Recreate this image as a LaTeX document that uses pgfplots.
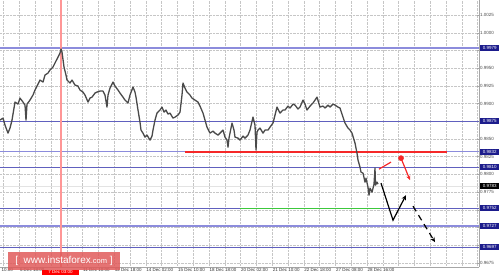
\documentclass[border=0pt]{standalone}
\usepackage{fontspec}
\setmainfont{Liberation Sans}
\usepackage{pgfplots}
\pgfplotsset{compat=1.18}
\usetikzlibrary{arrows.meta}
\definecolor{navy}{RGB}{28,28,140}
\definecolor{lvlblue}{RGB}{96,96,190}
\definecolor{lvllight}{RGB}{140,140,220}
\definecolor{pricegrey}{RGB}{74,74,74}
\definecolor{lvlred}{RGB}{245,40,40}
\definecolor{lvlgreen}{RGB}{60,200,60}
\definecolor{cursorred}{RGB}{255,150,150}
\definecolor{wmred}{RGB}{224,90,90}
\newcommand{\smallfnt}{\fontsize{4.5}{5}\selectfont}
\begin{document}
\begin{tikzpicture}
\useasboundingbox (0,0) rectangle (500pt,278pt);
\begin{axis}[
  at={(0pt,11pt)}, anchor=south west,
  scale only axis, width=479pt, height=267pt,
  xmin=0, xmax=479, ymin=0.9669, ymax=1.00465,
  clip=false,
  axis x line*=bottom, axis y line*=right,
  axis line style={draw=gray!70, line width=0.5pt},
  ytick={0.9675,0.97,0.9725,0.975,0.9775,0.98,0.9825,0.985,0.9875,0.99,0.9925,0.995,0.9975,1.0,1.0025},
  yticklabels={0.9675,,,,0.9775,0.9800,0.9825,0.9850,,0.9900,0.9925,0.9950,,1.0000,1.0025},
  yticklabel style={font=\smallfnt, text=black!70, inner sep=1pt},
  ymajorgrids, xmajorgrids,
  grid style={densely dotted, draw=gray!45, line width=0.4pt},
  ytick style={draw=gray!70, line width=0.4pt}, major tick length=2pt,
  xtick={3.5,19.3,35.1,50.9,66.7,82.5,98.3,114.1,129.9,145.7,161.5,177.3,193.1,208.9,224.7,240.5,256.3,272.1,287.9,303.7,319.5,335.3,351.1,366.9,382.7,398.5,414.3,430.1,445.9,461.7,477.5},
  xticklabels={,6 Dec 18:00,,,,11 Dec 10:00,,12 Dec 18:00,,14 Dec 02:00,,15 Dec 10:00,,18 Dec 18:00,,20 Dec 02:00,,21 Dec 10:00,,22 Dec 18:00,,27 Dec 08:00,,28 Dec 16:00,,,,,,,},
  xtick style={draw=none},
  xticklabel style={font=\smallfnt, text=black!80, anchor=north west, inner sep=0.5pt, yshift=-1pt},
]
% horizontal levels
\addplot[draw=lvllight, line width=1.8pt] coordinates {(0,0.9979) (479,0.9979)};
\addplot[draw=lvlblue, line width=1.25pt] coordinates {(0,0.9875) (479,0.9875)};
\addplot[draw=lvllight, line width=1.4pt] coordinates {(0,0.9832) (479,0.9832)};
\addplot[draw=lvlblue, line width=1.25pt] coordinates {(0,0.9810) (479,0.9810)};
\addplot[draw=gray!22, line width=1.6pt] coordinates {(0,0.9783) (479,0.9783)};
\addplot[draw=lvlblue, line width=1.25pt] coordinates {(0,0.9752) (479,0.9752)};
\addplot[draw=lvllight, line width=1.4pt] coordinates {(0,0.9727) (479,0.9727)};
\addplot[draw=lvlblue, line width=1.25pt] coordinates {(0,0.9697) (479,0.9697)};
% cursor line
\addplot[draw=cursorred, line width=1.2pt] coordinates {(61,0.9669) (61,1.00465)};
% support / resistance
\addplot[draw=lvlred, line width=1.8pt] coordinates {(185,0.9832) (447,0.9832)};
\addplot[draw=lvlgreen, line width=1.5pt] coordinates {(240,0.9752) (380,0.9752)};
% price
\addplot[draw=pricegrey, line width=1.3pt, line join=round] coordinates {
(0,0.98767) (3,0.98795) (5,0.98696) (8,0.98583) (10,0.98654) (12,0.98767)
(15,0.99022) (18,0.98993) (20,0.99078) (23,0.99022) (25,0.98979) (26,0.98767)
(27,0.98993) (30,0.9905) (33,0.99121) (35,0.99192) (38,0.99276) (40,0.99333)
(43,0.99305) (45,0.99404) (48,0.99432) (50,0.99475) (53,0.99517) (55,0.99574)
(58,0.99658) (60,0.99715) (61,0.99772) (62,0.99729) (64,0.99517) (66,0.99404)
(67,0.99333) (70,0.99291) (72,0.99333) (75,0.99262) (78,0.99248) (80,0.99192)
(83,0.99163) (85,0.99121) (88,0.99022) (90,0.99078) (92,0.99092) (95,0.99149)
(97,0.99163) (100,0.99177) (103,0.99177) (105,0.99121) (107,0.98951) (108,0.99121)
(110,0.9922) (113,0.99305) (115,0.99248) (118,0.99192) (120,0.99149) (123,0.99092)
(125,0.9905) (128,0.99008) (130,0.99121) (133,0.99234) (135,0.99163) (136,0.99092)
(138,0.98909) (140,0.98739) (141,0.98626) (143,0.98583) (145,0.98526) (147,0.98555)
(150,0.98484) (152,0.98541) (153,0.98626) (155,0.98767) (157,0.98866) (160,0.98909)
(162,0.98951) (164,0.9888) (166,0.98909) (168,0.98852) (170,0.98866) (173,0.98795)
(175,0.98809) (178,0.98838) (180,0.9888) (182,0.99121) (183,0.99291) (185,0.9922)
(187,0.99163) (190,0.99121) (192,0.99078) (195,0.9905) (198,0.99022) (200,0.98965)
(203,0.98866) (205,0.98767) (207,0.98668) (210,0.98583) (213,0.98611) (215,0.98583)
(218,0.98555) (220,0.98583) (223,0.98626) (225,0.98526) (227,0.98484) (228,0.98385)
(229,0.98512) (232,0.98725) (234,0.98626) (235,0.98526) (238,0.98512) (240,0.98484)
(243,0.98541) (245,0.98512) (248,0.98555) (250,0.98626) (253,0.98809) (255,0.98696)
(256,0.98343) (257,0.98597) (258,0.98626) (260,0.98654) (263,0.98583) (265,0.98626)
(268,0.98626) (270,0.98668) (273,0.98725) (275,0.98838) (277,0.98951) (280,0.98866)
(283,0.98909) (285,0.98909) (288,0.98965) (290,0.98937) (293,0.98993) (295,0.98979)
(298,0.98923) (300,0.98951) (303,0.9905) (305,0.98993) (307,0.98909) (310,0.98965)
(313,0.99008) (315,0.9905) (317,0.99092) (320,0.98951) (323,0.98965) (325,0.98937)
(328,0.98979) (330,0.98951) (333,0.98993) (335,0.98979) (338,0.98951) (340,0.98937)
(343,0.98809) (345,0.98725) (348,0.98654) (350,0.98626) (352,0.98583) (355,0.98442)
(357,0.983) (358,0.98201) (360,0.98102) (361,0.98031) (363,0.98017) (365,0.9789)
(366,0.97946) (368,0.97819) (369,0.97706) (370,0.97805) (372,0.97748) (374,0.97861)
(375,0.98088) (375.5,0.97847) (377,0.9789) (378,0.97861)
};
% forecast arrows
\addplot[draw=lvlred, line width=1.2pt] coordinates {(379,0.98074) (391,0.98173)};
\addplot[color=lvlred, only marks, mark=*, mark size=2.6pt] coordinates {(401,0.98229)};
\addplot[draw=lvlred, line width=1.2pt, -{Stealth[length=4.5pt,width=4pt]}] coordinates {(401,0.98229) (410,0.97918)};
\addplot[draw=black, line width=1.2pt, -{Stealth[length=5pt,width=4.5pt]}] coordinates {(381,0.97876) (393,0.97352) (406,0.97706)};
\addplot[draw=black, line width=1.2pt, dash pattern=on 6pt off 4.5pt, -{Stealth[length=5pt,width=4.5pt]}] coordinates {(413,0.97550) (435,0.97041)};
% right labels
\foreach \v/\c in {0.9979/navy,0.9875/navy,0.9832/navy,0.9810/navy,0.9783/black,0.9752/navy,0.9727/navy,0.9697/navy}{
  \edef\temp{\noexpand\node[fill=\c, text=white, font=\noexpand\smallfnt, minimum width=19pt, minimum height=6pt, inner sep=0pt, anchor=west] at (axis cs:480,\v) {\v};}
  \temp
}
\end{axis}
% partial leftmost label and cursor time label
\node[font=\smallfnt, text=black!80, anchor=north west, inner sep=0.5pt] at (1pt,10pt) {10:00};
\node[fill=red, text=white, font=\smallfnt, minimum width=37pt, minimum height=5pt, inner sep=0pt] at (60.5pt,5.6pt) {7 Dec 03:00};
% watermark
\node[fill=wmred, fill opacity=0.85, text opacity=1, text=white, minimum width=112pt, minimum height=18pt, inner sep=0pt] at (64pt,17pt) {\fontsize{10}{11}\selectfont[\ \ www.instaforex{\fontsize{7.5}{8}\selectfont.com} ]};
\end{tikzpicture}
\end{document}
